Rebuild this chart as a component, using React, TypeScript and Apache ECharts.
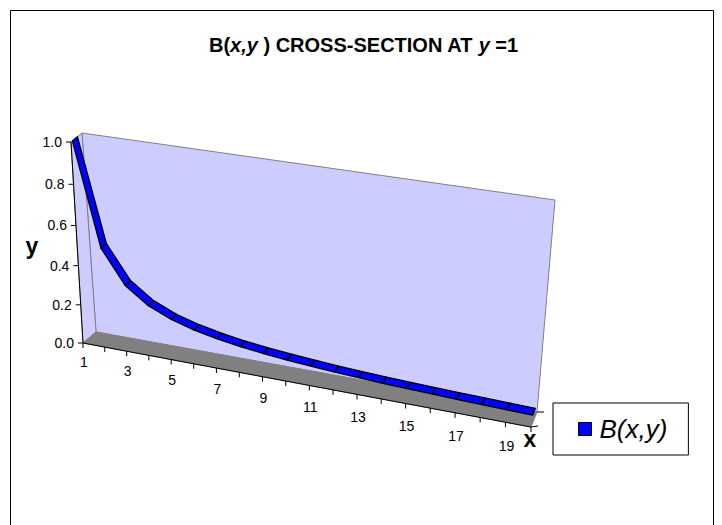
import React, { useEffect, useRef } from "react";
import * as echarts from "echarts";

// ---- data ----
const categories: string[] = ["1","2","3","4","5","6","7","8","9","10","11","12","13","14","15","16","17","18","19","20"];
const seriesName = "B(x,y)";
const seriesValues: number[] = [1.0, 0.5, 0.333, 0.25, 0.2, 0.167, 0.143, 0.125, 0.111, 0.1, 0.091, 0.083, 0.077, 0.071, 0.067, 0.063, 0.059, 0.056, 0.053, 0.05];
const yTickValues: number[] = [0, 0.2, 0.4, 0.6, 0.8, 1.0];
const yTickLabels: string[] = ["0.0", "0.2", "0.4", "0.6", "0.8", "1.0"];
const xLabelEvery = 2;

// ---- layout (projection of the 3D box) ----
const FONT = "'Liberation Sans', Arial, Helvetica, sans-serif";
const GL = 100, GT = 100, GW = 400, GH = 200; // hidden cartesian grid
const FRONT: number[][] = [[83, 343], [531, 427], [550, 213], [71, 142]]; // BL, BR, TR, TL
const BACK: number[][] = [[96, 332], [537, 412], [555, 200], [82, 133]];
const D0 = 0.12, D1 = 0.58; // ribbon depth range

function homography(q: number[][]) {
  const [x0, y0] = q[0], [x1, y1] = q[1], [x2, y2] = q[2], [x3, y3] = q[3];
  const dx1 = x1 - x2, dx2 = x3 - x2, dx3 = x0 - x1 + x2 - x3;
  const dy1 = y1 - y2, dy2 = y3 - y2, dy3 = y0 - y1 + y2 - y3;
  const den = dx1 * dy2 - dx2 * dy1;
  const g = (dx3 * dy2 - dx2 * dy3) / den;
  const h = (dx1 * dy3 - dx3 * dy1) / den;
  const a = x1 - x0 + g * x1, b = x3 - x0 + h * x3, c = x0;
  const d = y1 - y0 + g * y1, e = y3 - y0 + h * y3, f = y0;
  return (u: number, v: number) => {
    const w = g * u + h * v + 1;
    return [(a * u + b * v + c) / w, (d * u + e * v + f) / w];
  };
}
const HF = homography(FRONT);
const HB = homography(BACK);
function P(t: number, v: number, d: number): number[] {
  const f = HF(t, v), b = HB(t, v);
  return [f[0] + (b[0] - f[0]) * d, f[1] + (b[1] - f[1]) * d];
}
function norm(pt: number[]) {
  return [(pt[0] - GL) / GW, (GT + GH - pt[1]) / GH];
}

export default function App() {
  const ref = useRef<HTMLDivElement>(null);
  useEffect(() => {
    document.body.style.margin = "0";
    const chart = echarts.init(ref.current!, null, { renderer: "svg" });
    const wallFill = "#CCCCFF";
    const wallStroke = "#808080";

    const frameSeries: any = {
      type: "custom",
      name: "frame",
      coordinateSystem: "cartesian2d",
      silent: true,
      z: 1,
      data: [[0, 0]],
      renderItem: () => {
        const poly = (pts: number[][], fill: string, stroke: string) => ({
          type: "polygon",
          shape: { points: pts },
          style: { fill, stroke, lineWidth: 1 },
        });
        return {
          type: "group",
          children: [
            poly([P(0, 0, 1), P(1, 0, 1), P(1, 1, 1), P(0, 1, 1)], wallFill, wallStroke),
            poly([P(0, 0, 0), P(0, 0, 1), P(0, 1, 1), P(0, 1, 0)], wallFill, wallStroke),
            poly([P(0, 0, 0), P(1, 0, 0), P(1, 0, 1), P(0, 0, 1)], "#808080", "#808080"),
            { type: "line", shape: { x1: P(0, 0, 0)[0], y1: P(0, 0, 0)[1], x2: P(0, 1, 0)[0], y2: P(0, 1, 0)[1] }, style: { stroke: "#000", lineWidth: 1 } },
            { type: "line", shape: { x1: P(0, 0, 0)[0], y1: P(0, 0, 0)[1], x2: P(1, 0, 0)[0], y2: P(1, 0, 0)[1] }, style: { stroke: "#000", lineWidth: 1 } },
            { type: "line", shape: { x1: P(1, 0, 0)[0], y1: P(1, 0, 0)[1], x2: P(1, 0, 0)[0] + 7, y2: P(1, 0, 0)[1] - 1 }, style: { stroke: "#000", lineWidth: 1 } },
            { type: "line", shape: { x1: P(1, 0, 1)[0], y1: P(1, 0, 1)[1], x2: P(1, 0, 1)[0] + 7, y2: P(1, 0, 1)[1] }, style: { stroke: "#000", lineWidth: 1 } },
          ],
        };
      },
    };

    const yTickSeries: any = {
      type: "custom",
      name: "yticks",
      coordinateSystem: "cartesian2d",
      silent: true,
      z: 2,
      data: yTickValues.map((v) => [0, v]),
      renderItem: (params: any, api: any) => {
        const [t, v] = norm(api.coord([api.value(0), api.value(1)]));
        const p = P(t, v, 0);
        return {
          type: "group",
          children: [
            { type: "line", shape: { x1: p[0] - 5, y1: p[1], x2: p[0], y2: p[1] }, style: { stroke: "#000", lineWidth: 1 } },
            { type: "text", x: p[0] - 9, y: p[1], style: { text: yTickLabels[params.dataIndex], fill: "#000", font: `14px ${FONT}`, align: "right", verticalAlign: "middle" } },
          ],
        };
      },
    };

    const xTickSeries: any = {
      type: "custom",
      name: "xticks",
      coordinateSystem: "cartesian2d",
      silent: true,
      z: 2,
      data: categories.map((_, i) => [i, 0]),
      renderItem: (params: any, api: any) => {
        const i = params.dataIndex;
        const [t, v] = norm(api.coord([api.value(0), 0]));
        const p = P(t, v, 0);
        const children: any[] = [
          { type: "line", shape: { x1: p[0], y1: p[1], x2: p[0], y2: p[1] + 5 }, style: { stroke: "#000", lineWidth: 1 } },
        ];
        if (i % xLabelEvery === 0) {
          children.push({ type: "text", x: p[0] + 1, y: p[1] + 19 + t * 5, style: { text: categories[i], fill: "#000", font: `14px ${FONT}`, align: "center", verticalAlign: "middle" } });
        }
        return { type: "group", children };
      },
    };

    const ribbonSeries: any = {
      type: "custom",
      name: seriesName,
      coordinateSystem: "cartesian2d",
      z: 3,
      itemStyle: { color: "#0000FF", borderColor: "#000" },
      data: seriesValues.map((v, i) => [i, v]),
      renderItem: (params: any, api: any) => {
        const i = params.dataIndex;
        if (i >= seriesValues.length - 1) return null;
        const [t0, v0] = norm(api.coord([i, seriesValues[i]]));
        const [t1, v1] = norm(api.coord([i + 1, seriesValues[i + 1]]));
        const pts = [P(t0, v0, D0), P(t1, v1, D0), P(t1, v1, D1), P(t0, v0, D1)];
        return {
          type: "polygon",
          shape: { points: pts },
          style: { fill: "#0000FF", stroke: "#000", lineWidth: 1.3, lineJoin: "round" },
        };
      },
    };

    const option: any = {
      animation: false,
      backgroundColor: "#fff",
      title: {
        text: "{a|B(}{b|x,y}{a| ) CROSS-SECTION AT }{b|y}{a| =1}",
        left: 204,
        top: 30,
        textStyle: {
          rich: {
            a: { fontSize: 20, fontWeight: "bold", fontFamily: FONT, color: "#000" },
            b: { fontSize: 20, fontWeight: "bold", fontStyle: "italic", fontFamily: FONT, color: "#000" },
          },
        },
      },
      grid: { left: GL, top: GT, width: GW, height: GH, show: false },
      xAxis: { type: "category", data: categories, boundaryGap: false, show: false },
      yAxis: { type: "value", min: 0, max: 1, interval: 0.2, show: false },
      legend: {
        left: 553,
        top: 403,
        orient: "vertical",
        padding: [11, 21, 11, 25],
        borderColor: "#000",
        borderWidth: 1,
        backgroundColor: "#fff",
        itemWidth: 13,
        itemHeight: 13,
        selectedMode: false,
        data: [{ name: seriesName, icon: "rect", itemStyle: { color: "#0000FF", borderColor: "#000", borderWidth: 1 } }],
        formatter: (name: string) => `{t|${name}}`,
        textStyle: {
          fontSize: 26, fontStyle: "italic", fontFamily: FONT, color: "#000", lineHeight: 30,
          rich: { t: { fontSize: 26, fontStyle: "italic", fontFamily: FONT, color: "#000", lineHeight: 30, padding: [0, 0, 0, 3] } },
        },
      },
      graphic: [
        { type: "rect", shape: { x: 10.5, y: 10.5, width: 703, height: 530 }, style: { fill: "none", stroke: "#000", lineWidth: 1 }, silent: true },
        { type: "text", x: 32, y: 246, style: { text: "y", font: `bold 23px ${FONT}`, fill: "#000", align: "center", verticalAlign: "middle" } },
        { type: "text", x: 530, y: 439, style: { text: "x", font: `bold 23px ${FONT}`, fill: "#000", align: "center", verticalAlign: "middle" } },
      ],
      series: [frameSeries, yTickSeries, xTickSeries, ribbonSeries],
    };
    chart.setOption(option);
    return () => chart.dispose();
  }, []);
  return <div ref={ref} style={{ width: 722, height: 525 }} />;
}
